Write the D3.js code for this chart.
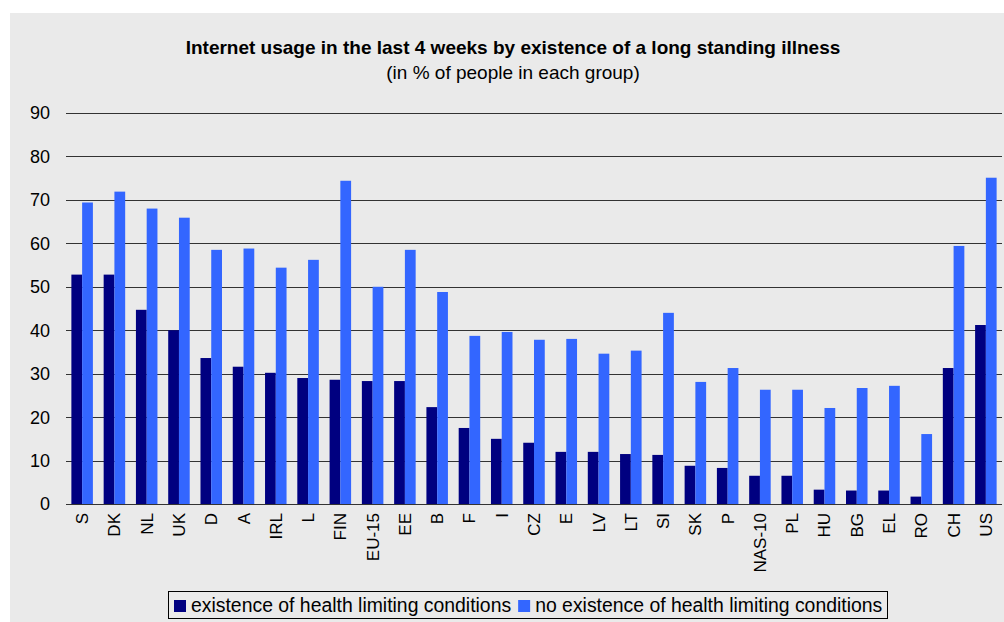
<!DOCTYPE html>
<html>
<head>
<meta charset="utf-8">
<script src="https://cdn.jsdelivr.net/npm/d3@7/dist/d3.min.js"></script>
<style>
  body { margin: 0; background: #fff; }
  text { font-family: "Liberation Sans", Arial, sans-serif; fill: #000; }
</style>
</head>
<body>
<div id="chart"></div>
<script>
var countries = ["S","DK","NL","UK","D","A","IRL","L","FIN","EU-15","EE","B","F","I","CZ","E","LV","LT","SI","SK","P","NAS-10","PL","HU","BG","EL","RO","CH","US"];
var with_cond = [52.8,52.8,44.7,40.0,33.6,31.6,30.2,29.0,28.6,28.3,28.3,22.3,17.5,15.0,14.1,12.0,12.0,11.5,11.3,8.8,8.3,6.5,6.5,3.3,3.1,3.1,1.7,31.3,41.2];
var without_cond = [69.4,71.9,68.0,65.9,58.5,58.8,54.4,56.2,74.4,50.0,58.5,48.8,38.7,39.6,37.8,38.0,34.6,35.3,44.0,28.1,31.3,26.3,26.3,22.1,26.7,27.2,16.1,59.4,75.1];
var series = ["existence of health limiting conditions", "no existence of health limiting conditions"];
var colors = ["#000080", "#3366ff"];
var y_ticks = [0,10,20,30,40,50,60,70,80,90];

var W = 1004, H = 622;
var margin = {top: 113, right: 2, bottom: 118, left: 66}
, width = W - margin.left - margin.right
, height = H - margin.top - margin.bottom;

var svg = d3.select("#chart")
    .append("svg")
    .attr("width", W)
    .attr("height", H);

// grey panel
svg.append("rect")
    .attr("x", 10)
    .attr("y", 13)
    .attr("width", W - 10)
    .attr("height", H - 13)
    .attr("fill", "#eaeaea");

svg.append("text")
    .attr("x", 513)
    .attr("y", 54)
    .attr("text-anchor", "middle")
    .style("font-weight", "bold")
    .style("font-size", "19px")
    .text("Internet usage in the last 4 weeks by existence of a long standing illness");

svg.append("text")
    .attr("x", 513)
    .attr("y", 79)
    .attr("text-anchor", "middle")
    .style("font-size", "19px")
    .text("(in % of people in each group)");

var g = svg.append("g")
    .attr("transform", "translate(" + margin.left + "," + margin.top + ")");

var xScale = d3.scaleBand()
    .domain(countries)
    .range([0, width])
    .paddingInner(1/3)
    .paddingOuter(1/6);

var xSub = d3.scaleBand()
    .domain([0, 1])
    .range([0, xScale.bandwidth()]);

var yScale = d3.scaleLinear()
    .domain([0, 90])
    .range([height, 0]);

// gridlines
g.selectAll(".grid")
    .data(y_ticks)
    .enter()
    .append("line")
    .attr("x1", 0)
    .attr("x2", width)
    .attr("y1", function(d) { return Math.round(yScale(d)) + 0.5; })
    .attr("y2", function(d) { return Math.round(yScale(d)) + 0.5; })
    .attr("stroke", "#333")
    .attr("stroke-width", 1);

g.selectAll(".ylab")
    .data(y_ticks)
    .enter()
    .append("text")
    .attr("x", -16)
    .attr("y", function(d) { return yScale(d); })
    .attr("dy", "0.36em")
    .attr("text-anchor", "end")
    .style("font-size", "18px")
    .text(function(d) { return d; });

var groups = g.selectAll(".grp")
    .data(countries)
    .enter()
    .append("g")
    .attr("transform", function(d) { return "translate(" + xScale(d) + ",0)"; });

groups.append("rect")
    .attr("x", xSub(0))
    .attr("width", xSub.bandwidth())
    .attr("y", function(d, i) { return yScale(with_cond[i]); })
    .attr("height", function(d, i) { return height - yScale(with_cond[i]); })
    .attr("fill", colors[0]);

groups.append("rect")
    .attr("x", xSub(1))
    .attr("width", xSub.bandwidth())
    .attr("y", function(d, i) { return yScale(without_cond[i]); })
    .attr("height", function(d, i) { return height - yScale(without_cond[i]); })
    .attr("fill", colors[1]);

// x axis labels, rotated
g.selectAll(".xlab")
    .data(countries)
    .enter()
    .append("text")
    .attr("transform", function(d) {
        return "translate(" + (xScale(d) + xScale.bandwidth() / 2 + 6) + "," + (height + 9) + ") rotate(-90)";
    })
    .attr("text-anchor", "end")
    .style("font-size", "17px")
    .text(function(d) { return d; });

// legend
var legend = svg.append("g")
    .attr("transform", "translate(168,591)");

legend.append("rect")
    .attr("x", 0.5)
    .attr("y", 0.5)
    .attr("width", 719)
    .attr("height", 27)
    .attr("fill", "#eaeaea")
    .attr("stroke", "#000");

var items = legend.selectAll(".item")
    .data(series)
    .enter()
    .append("g");

items.append("rect")
    .attr("y", 9)
    .attr("width", 12)
    .attr("height", 12)
    .attr("fill", function(d, i) { return colors[i]; });

items.append("text")
    .attr("x", 17)
    .attr("y", 21)
    .style("font-size", "19.4px")
    .text(function(d) { return d; });

// place items side by side
var xpos = 6;
items.each(function() {
    d3.select(this).attr("transform", "translate(" + xpos + ",0)");
    xpos += this.getBBox().width + 7;
});
</script>
</body>
</html>
